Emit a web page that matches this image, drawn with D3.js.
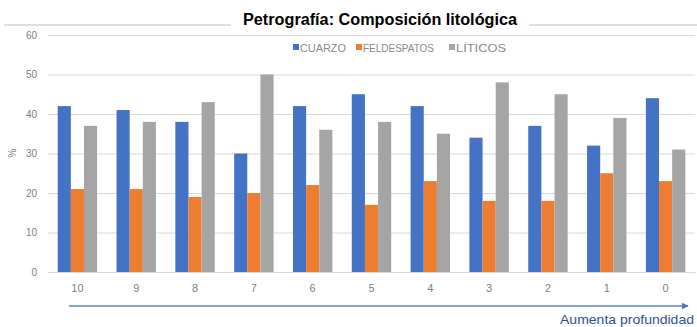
<!DOCTYPE html>
<html>
<head>
<meta charset="utf-8">
<script src="https://cdn.jsdelivr.net/npm/d3@7"></script>
<style>
  html, body { margin: 0; padding: 0; background: #fff; }
  svg { display: block; }
</style>
</head>
<body>
<svg id="chart" width="697" height="327"></svg>
<script>
// Sample positions along the section (10 = shallowest shown first, 0 last)
const categories = ["10", "9", "8", "7", "6", "5", "4", "3", "2", "1", "0"];
const seriesNames = ["CUARZO", "FELDESPATOS", "LÍTICOS"];
const cuarzo      = [42, 41, 38, 30, 42, 45, 42, 34, 37, 32, 44];
const feldespatos = [21, 21, 19, 20, 22, 17, 23, 18, 18, 25, 23];
const liticos     = [37, 38, 43, 50, 36, 38, 35, 48, 45, 39, 31];
const yTicks = [0, 10, 20, 30, 40, 50, 60];
const colors = ["#4472C4", "#ED7D31", "#A5A5A5"];

const seriesValues = [cuarzo, feldespatos, liticos];
const rows = categories.map((c, i) => ({
  cat: c,
  vals: seriesNames.map((s, k) => ({ key: s, value: seriesValues[k][i] }))
}));

const svg = d3.select("#chart");
const font = "'Liberation Sans', Arial, sans-serif";

const x = d3.scaleBand().domain(categories).range([48, 695])
  .paddingInner(0.33).paddingOuter(0.165);
const xs = d3.scaleBand().domain(seriesNames).range([0, x.bandwidth()]);
const y = d3.scaleLinear().domain([0, 60]).range([272, 35]);

// Title rule with the title box sitting on top of it
svg.append("line").attr("x1", 4).attr("x2", 697).attr("y1", 25).attr("y2", 25)
  .attr("stroke", "#bfbfbf").attr("stroke-width", 1);
const title = svg.append("text").attr("x", 380).attr("y", 25)
  .attr("text-anchor", "middle").attr("font-family", font)
  .attr("font-weight", "bold").attr("font-size", 16).attr("fill", "#000")
  .attr("textLength", 274).attr("lengthAdjust", "spacingAndGlyphs")
  .text("Petrografía: Composición litológica");
const tb = title.node().getBBox();
svg.insert("rect", "text").attr("x", tb.x - 12).attr("y", 8)
  .attr("width", tb.width + 24).attr("height", 24).attr("fill", "#fff");

// Gridlines and y axis labels
const yAxis = d3.axisLeft(y).tickValues(yTicks).tickSize(-(695 - 48)).tickPadding(11);
const yg = svg.append("g").attr("transform", "translate(48,0)").call(yAxis);
yg.select(".domain").remove();
yg.selectAll(".tick line").attr("stroke", "#d9d9d9").attr("stroke-width", 1);
yg.selectAll(".tick text").attr("font-family", font).attr("font-size", 10)
  .attr("fill", "#7f7f7f");

svg.append("text").attr("transform", "translate(16,153) rotate(-90)")
  .attr("text-anchor", "middle").attr("font-family", font).attr("font-size", 10)
  .attr("fill", "#7f7f7f").text("%");

// Bars
const groups = svg.append("g").selectAll("g").data(rows).join("g")
  .attr("transform", d => `translate(${x(d.cat)},0)`);
groups.selectAll("rect").data(d => d.vals).join("rect")
  .attr("x", d => xs(d.key))
  .attr("width", xs.bandwidth())
  .attr("y", d => y(d.value))
  .attr("height", d => y(0) - y(d.value))
  .attr("fill", (d, i) => colors[i]);

// Category axis
const xAxis = d3.axisBottom(x).tickSize(0).tickPadding(12);
const xg = svg.append("g").attr("transform", "translate(0,272)").call(xAxis);
xg.select(".domain").attr("stroke", "#d9d9d9");
xg.selectAll(".tick text").attr("font-family", font).attr("font-size", 11)
  .attr("fill", "#7f7f7f");

// Legend
const legendItems = [
  { name: seriesNames[0], x: 293, w: 46 },
  { name: seriesNames[1], x: 356, w: 71 },
  { name: seriesNames[2], x: 449, w: 50 }
];
const lg = svg.append("g").selectAll("g").data(legendItems).join("g")
  .attr("transform", d => `translate(${d.x},48)`);
lg.append("rect").attr("x", 0).attr("y", -4).attr("width", 6).attr("height", 6)
  .attr("fill", (d, i) => colors[i]);
lg.append("text").attr("x", 7).attr("y", 0).attr("dy", "0.35em")
  .attr("font-family", font).attr("font-size", 10.5).attr("fill", "#8a8a8a")
  .attr("textLength", d => d.w).attr("lengthAdjust", "spacingAndGlyphs")
  .text(d => d.name);

// Depth arrow
const defs = svg.append("defs");
defs.append("marker").attr("id", "arrow").attr("viewBox", "0 0 10 10")
  .attr("refX", 9).attr("refY", 5).attr("markerWidth", 5).attr("markerHeight", 5)
  .attr("orient", "auto")
  .append("path").attr("d", "M0,0 L10,5 L0,10 z").attr("fill", "#4472C4");
svg.append("line").attr("x1", 69).attr("x2", 688).attr("y1", 306).attr("y2", 306)
  .attr("stroke", "#5b82d6").attr("stroke-width", 1.3).attr("marker-end", "url(#arrow)");
svg.append("text").attr("x", 694).attr("y", 324).attr("text-anchor", "end")
  .attr("font-family", font).attr("font-size", 13).attr("fill", "#2f4fa0")
  .attr("textLength", 134).attr("lengthAdjust", "spacingAndGlyphs")
  .text("Aumenta profundidad");
</script>
</body>
</html>
